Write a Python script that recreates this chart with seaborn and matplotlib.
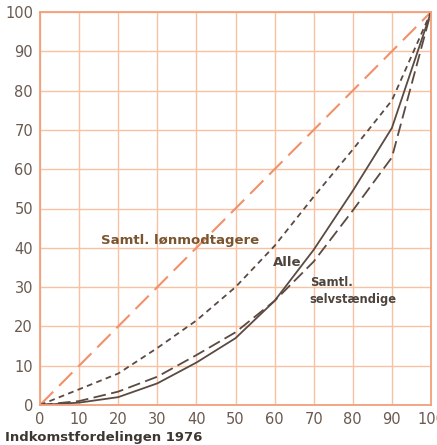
import numpy as np
import pandas as pd
import matplotlib
matplotlib.use("Agg")
import matplotlib.pyplot as plt
import seaborn as sns

# Lorenz curves, income distribution 1976 (share of persons vs share of income, %)
pct_persons = [0, 10, 20, 30, 40, 50, 60, 70, 80, 90, 100]
equality = [0, 10, 20, 30, 40, 50, 60, 70, 80, 90, 100]
loenmodtagere = [0, 4, 8, 14.5, 21.5, 30, 40.5, 53, 65, 77.5, 100]
alle = [0, 0.6, 2, 5.5, 10.8, 17, 26.5, 39.5, 54.5, 70.5, 100]
selvstaendige = [0, 1, 3.4, 7.2, 12.7, 18.5, 26.5, 36.5, 49.5, 63, 100]

ticks = list(range(0, 101, 10))
tick_labels = [str(t) for t in ticks]

df = pd.DataFrame({
    "x": pct_persons * 4,
    "y": equality + loenmodtagere + alle + selvstaendige,
    "serie": (["lige"] * 11 + ["lon"] * 11 + ["alle"] * 11 + ["selv"] * 11),
})

sns.set_style("white")
plt.rcParams["font.family"] = ["DejaVu Sans"]

grid_col = "#f6c2a2"
frame_col = "#f0a07a"
curve_col = "#5b4a42"
text_col = "#6b5a50"

fig = plt.figure(figsize=(4.37, 4.45), dpi=100)
ax = fig.add_axes([40 / 437, 40 / 445, 391 / 437, 393 / 445])

styles = {
    "lige": dict(color="#f2906a", dashes=(9, 4), lw=1.5),
    "lon": dict(color=curve_col, dashes=(3.2, 2.4), lw=1.3),
    "alle": dict(color=curve_col, dashes=None, lw=1.3),
    "selv": dict(color=curve_col, dashes=(7, 3), lw=1.3),
}
for name, st in styles.items():
    sub = df[df["serie"] == name]
    sns.lineplot(data=sub, x="x", y="y", ax=ax, color=st["color"], lw=st["lw"])
    if st["dashes"] is not None:
        ax.lines[-1].set_dashes(st["dashes"])

ax.set_xlim(0, 100)
ax.set_ylim(0, 100)
ax.set_xticks(ticks)
ax.set_yticks(ticks)
ax.set_xticklabels(tick_labels)
ax.set_yticklabels(tick_labels)
ax.tick_params(length=0, labelsize=10.5, labelcolor=text_col, pad=5)
ax.grid(True, color=grid_col, lw=1)
ax.set_axisbelow(True)
for s in ax.spines.values():
    s.set_color(frame_col)
    s.set_linewidth(1.3)
ax.set_xlabel("")
ax.set_ylabel("")

# labels on the curves
ax.text(15.5, 41, "Samtl. lønmodtagere", fontsize=9.5, fontweight="bold", color="#7a5530")
ax.text(59.5, 35.3, "Alle", fontsize=9.5, fontweight="bold", color="#4e443e")
ax.text(69, 30.3, "Samtl.", fontsize=8.5, fontweight="bold", color="#4e443e")
ax.text(69, 26.0, "selvstændige", fontsize=8.3, fontweight="bold", color="#4e443e")

fig.text(5 / 437, 1 - 437 / 445, "Indkomstfordelingen 1976", fontsize=9.5,
         fontweight="bold", color="#3e3630", va="center")

fig.savefig("out.png", dpi=100, facecolor="white")
